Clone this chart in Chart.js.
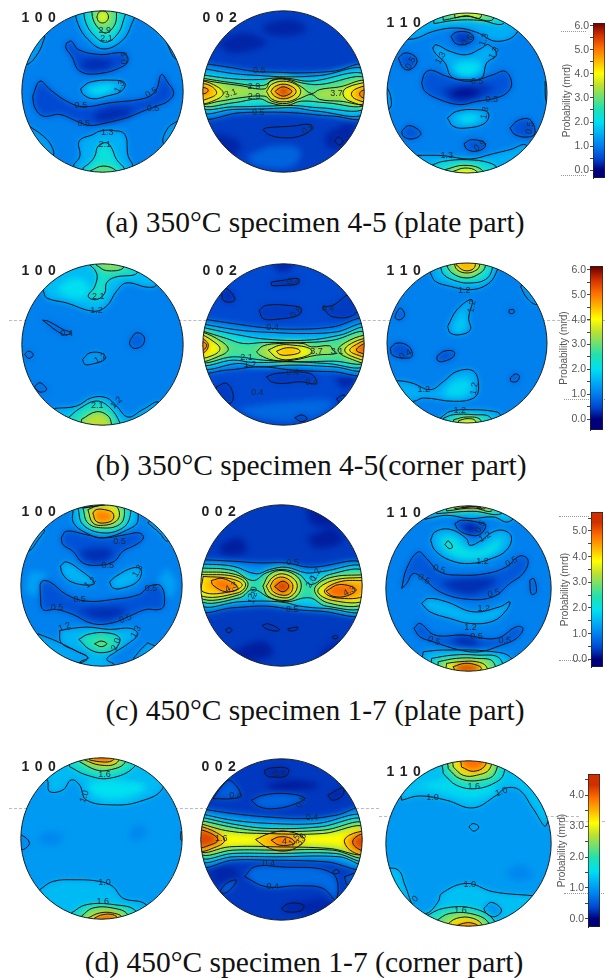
<!DOCTYPE html>
<html><head><meta charset="utf-8">
<style>
html,body{margin:0;padding:0;background:#fff;width:605px;height:978px;overflow:hidden;position:relative}
canvas{position:absolute;display:block;z-index:2}
.t{position:absolute;z-index:3;font:bold 14px "Liberation Sans",Arial,sans-serif;letter-spacing:.8px;color:#222;transform:translate(-50%,-50%);white-space:nowrap}
.c{position:absolute;z-index:3;font:29.5px "Liberation Serif","Times New Roman",serif;color:#111;transform:translate(-50%,-50%);white-space:nowrap}
.d{position:absolute;z-index:1;height:0;border-top:1px dashed #bbb}
.p{position:absolute;z-index:1;height:0;border-top:1px dotted #999}
</style>
<script src="https://cdn.jsdelivr.net/npm/chart.js@4"></script>
</head><body>
<script>
// Jet-like colour stops of the probability scale
const stopT=[0,.08,.17,.25,.33,.42,.5,.58,.66,.75,.83,.92,1];
const stopC=[[0,0,122],[0,72,208],[0,128,238],[0,176,245],[0,224,240],[32,224,176],[112,224,112],[192,224,48],[255,255,0],[255,176,0],[255,112,0],[208,48,0],[112,0,0]];
// Contours: [level, drawLine, x,y, x,y, ...]
const a100=[
[1.35,1,135,112,115,160,80,195,60,170,100,100],[1.35,1,458,85,495,120,520,170,535,180,560,140,500,60],
[1.35,1,85,378,130,410,155,440,160,470,130,500,60,420],[1.35,1,533,365,505,385,490,430,520,440,570,400],
[1.5,1,222,20,235,75,265,120,310,148,365,125,395,75,405,20],[2.2,1,250,20,258,70,285,110,318,128,352,105,370,65,375,20],
[3,1,275,20,280,60,300,90,320,100,345,75,350,40,345,20],[3.9,1,291,52,297,38,308,34,320,38,326,52,320,65,308,70,296,65],
[.5,1,200,130,215,125,235,150,300,165,370,160,385,180,370,200,300,222,240,215,215,170,198,145],[.3,0,240,190,290,178,340,190,300,210,250,205],
[.5,1,98,290,120,245,150,270,200,305,250,322,330,310,440,295,470,270,485,225,505,250,522,280,505,305,470,320,430,335,380,355,320,370,270,378,230,365,180,345,130,350,105,325],
[.3,0,280,345,340,325,400,335,350,360,290,365],
[1.5,1,242,268,270,248,340,242,375,250,365,275,320,290,280,298,250,285],[2,0,260,270,300,258,345,258,330,275,285,285],
[1.5,1,222,495,240,470,238,425,280,405,300,395,335,393,375,405,385,470,400,500,400,540,220,540],
[2.2,1,250,505,270,490,285,470,295,440,320,430,335,445,350,480,375,510,375,540,250,540],[3,1,270,515,310,500,350,515,350,540,270,540]];
const a100Labels=[["2.9",315,93,0],["2.1",320,118,0],["0.9",375,175,-90],["1.3",360,262,-60],["0.5",455,280,-30],["0.5",243,318,0],["0.5",460,328,0],["0.5",252,372,0],["1.3",322,400,0],["2.1",315,435,0]];
const a002=[
[.25,0,800,70,880,60,920,90,860,110,790,95],[.25,0,650,130,730,100,800,130,700,160],[.25,0,650,400,720,430,700,470,640,430],[.25,0,980,400,1060,370,1040,440,980,440],[.75,0,740,470,820,440,900,450,880,500,770,500],
[1.1,1,600,190,700,205,760,215,830,218,900,220,1000,215,1100,200,1100,350,1000,350,880,340,800,338,720,340,600,350],
[1.6,1,600,205,700,222,780,228,860,232,960,228,1100,212,1100,340,950,335,880,325,800,328,700,330,600,335],
[2.2,1,600,225,700,238,780,240,830,235,870,237,930,245,1100,225,1100,325,960,325,880,318,800,320,700,322,600,322],
[2.8,1,600,235,700,250,790,258,820,240,860,238,905,250,960,255,1100,235,1100,315,980,310,905,305,860,318,810,310,780,298,700,310,600,315],
[3.4,1,600,240,660,250,720,258,795,268,812,245,860,240,905,262,935,282,960,270,1020,262,1100,245,1100,310,1020,305,960,300,935,285,905,295,860,312,815,305,795,290,720,295,660,305,600,310],
[4,1,800,276,815,255,850,245,888,255,903,276,888,298,850,307,815,298],[4.6,1,813,276,824,262,850,254,878,262,889,276,878,290,850,298,824,290],[5.2,1,826,276,835,268,850,262,868,268,876,276,868,284,850,290,835,284],[5.8,0,839,276,850,268,863,276,850,284],
[4,1,595,240,640,255,670,280,650,300,595,310],[4.6,1,595,250,630,258,650,280,630,295,595,300],[5,1,595,262,615,265,625,272,615,282,595,282],
[4,1,1110,245,1040,265,1030,285,1050,305,1110,315],[4.6,1,1110,255,1065,270,1055,285,1070,300,1110,305],[5.2,1,1110,268,1085,275,1080,285,1090,295,1110,298],
[.4,1,790,390,800,385,880,380,930,375,935,390,900,410,850,415,805,405],[.4,1,1005,425,1015,413,1030,425,1018,437]];
const a002Labels=[["0.5",778,213,0],["2.9",762,262,0],["2.9",762,290,0],["3.1",692,282,-20],["3.7",1010,282,0],["0.5",775,338,0],["0.9",925,390,-30]];
const a110=[
[1.5,1,110,112,160,118,220,95,290,85,350,98,410,125,470,100,480,20,110,20],[2.2,1,222,72,285,62,360,62,430,72,430,20,222,20],[3,1,250,62,320,50,395,62,395,20,250,20],[3.9,1,285,55,320,48,360,55,360,20,285,20],
[.5,1,273,110,290,97,330,100,340,120,310,135,285,130],[.25,0,290,112,320,108,325,122,300,124],
[1.5,1,218,145,228,135,270,155,320,165,365,145,385,135,410,165,380,190,365,235,320,240,275,232,255,190,225,160],[2,0,280,195,320,185,365,195,340,225,300,225],
[.6,1,115,175,135,160,165,170,170,190,150,210,130,205],
[.6,1,185,250,195,220,215,212,260,230,330,245,400,225,435,215,455,250,440,280,400,297,350,305,300,315,240,300,195,275],[.35,0,240,270,320,255,400,262,360,290,290,305],[.1,0,270,280,320,268,360,280,320,292,280,290],
[1.4,1,80,260,92,290,90,325,60,320,60,270],[1.4,1,555,245,560,310,580,310,580,245],
[1.5,1,262,355,290,335,350,330,385,340,375,370,320,385,280,380],[2,0,285,358,320,345,360,350,325,370],
[.6,1,125,395,145,378,175,390,182,405,155,418,130,410],[.55,1,450,385,475,362,510,360,525,400,505,412,465,405],[.6,1,312,432,335,420,375,430,372,445,345,455,320,448],
[1.5,1,165,467,250,468,330,478,400,462,450,450,500,438,520,540,130,540],[2.2,1,218,495,250,485,320,480,390,490,415,510,415,540,218,540],[3,1,255,510,310,497,365,510,365,540,255,540],[4,1,280,515,315,505,350,515,350,540,280,540]];
const a110Labels=[["0.6",322,122,-45],["1.3",372,120,-70],["1.3",242,175,-60],["1.3",402,160,-60],["0.5",152,190,-60],["0.5",352,245,0],["0.5",395,300,0],["1.3",375,340,-80],["0.9",360,438,-40],["0.5",510,385,-80],["1.3",260,467,0]];
const b100=[
[1.9,0,140,90,180,60,250,60,260,110,210,120],
[1.65,1,130,108,140,130,200,145,280,170,320,155,350,110,380,85,445,98,470,90,480,-10,100,-10],[2,0,170,100,230,70,270,100,250,130,190,120],
[2.4,1,258,20,290,55,285,95,265,125,290,135,315,115,320,85,345,68,412,55,385,10,258,10],[3.2,1,290,32,320,48,370,40,350,10,290,10],
[.7,1,128,197,190,240,215,235,190,225,145,200],[.7,1,392,255,410,235,432,245,430,270,405,282,390,270],[.8,1,74,300,85,290,100,300,87,312],[.8,1,103,398,120,385,140,405,120,413],[1.3,1,248,315,270,295,310,298,315,315,280,328,255,330],
[1.6,1,165,462,230,455,275,430,320,430,350,455,385,488,430,465,480,445,520,540,140,540],[2.4,1,205,490,240,462,290,440,330,460,360,505,360,530,205,530],[3.5,1,245,495,290,472,325,485,335,510,335,540,245,540]];
const b100Labels=[["2.1",295,127,0],["1.2",290,168,0],["0.4",200,238,0],["1.2",302,312,-30],["2.1",292,453,0],["1.2",350,445,-45]];
const b002=[
[.25,0,820,20,880,20,870,45,830,45],[.25,0,1000,370,1070,360,1040,400],[.8,0,710,460,860,440,1000,440,930,490,780,490],
[1.1,1,600,190,700,205,800,218,900,222,1000,215,1100,195,1100,352,1000,350,880,345,780,335,680,345,600,345],
[1.5,1,600,205,720,225,820,232,920,235,1010,230,1100,210,1100,340,1000,335,880,330,770,335,720,325,600,335],
[2.1,1,600,215,720,240,800,252,920,255,1020,240,1100,220,1100,330,980,325,880,320,760,322,700,315,600,325],
[2.8,1,600,225,680,250,730,265,790,262,920,262,1000,255,1100,232,1100,320,1000,318,900,320,790,315,700,305,600,318],
[3.4,1,770,290,790,272,840,265,910,265,935,275,990,272,1000,285,1010,295,950,300,880,315,820,315,780,300],
[4,1,805,285,840,270,880,270,930,280,935,295,880,312,835,310],[4.6,1,830,288,860,278,895,282,900,292,865,300,840,298],
[3.4,1,595,225,650,250,685,280,665,300,595,315],[4,1,595,232,635,255,660,280,640,300,595,305],[4.7,1,595,245,615,255,625,270,615,290,595,295],[5.2,1,595,255,610,260,620,270,610,285,595,285],
[3.4,1,1110,235,1050,255,1015,285,1050,310,1110,320],[4,1,1110,245,1060,262,1035,285,1060,305,1110,312],[4.6,1,1110,250,1075,265,1050,285,1075,300,1110,305],[5.3,1,1110,258,1085,270,1070,285,1090,295,1110,295],
[.3,1,815,80,850,75,895,70,895,85,850,90,815,90],[.3,1,665,110,680,100,705,130,695,140,670,135],[.4,1,778,165,800,150,880,152,905,160,895,180,830,192,790,190],[.4,1,970,155,1000,150,1050,118,1080,140,1060,180,1000,185,975,165],
[.4,1,800,365,830,355,930,355,950,385,900,380,850,385,815,380],[.4,1,650,395,680,385,700,420,690,445,640,430],[.4,1,885,488,905,480,922,490,905,500],[.4,1,1010,432,1030,420,1045,430,1030,450]];
const b002Labels=[["0.4",880,78,0],["0.8",890,172,-45],["0.4",985,160,0],["0.4",818,218,0],["2.1",740,308,0],["1.2",750,328,0],["0.4",878,352,0],["0.4",935,383,0],["0.4",772,412,0],["3.7",950,290,0],["3.1",1012,290,0]];
const b110=[
[1.5,1,210,55,225,80,270,95,330,105,380,90,407,55,420,-10,200,-10],[2.2,1,240,35,250,60,290,80,330,85,375,75,395,45,395,-10,240,-10],[3,1,255,25,275,55,320,70,360,55,375,35,375,-10,255,-10],[3.9,1,280,20,290,45,320,55,350,45,358,30,358,-10,280,-10],[4.6,1,287,30,310,47,335,45,345,30,335,20,295,20],
[1.3,1,480,95,500,130,530,150,560,130,520,80],[.7,1,108,175,120,160,133,180,120,195,105,190],[.6,1,447,165,460,165,460,175,447,175],
[1.5,1,262,215,290,165,335,135,325,190,330,225,300,240,270,235],[1.8,0,280,215,300,190,315,175,310,225,285,230],
[.55,1,90,280,110,265,145,275,155,305,125,310,95,300],[.55,1,230,305,250,290,280,290,280,305,250,320,232,318],[.6,1,450,370,465,358,477,365,470,380,452,380],
[1.5,1,85,380,112,378,155,385,210,405,250,380,290,350,340,350,355,400,340,430,280,440,190,430,160,440,100,440],[1.9,0,250,405,290,375,330,380,320,420,260,425],
[1.6,1,240,490,270,470,330,465,400,470,420,480,430,530,230,530],[2.3,1,250,490,280,480,340,480,390,488,390,530,250,530],[3.1,1,280,495,320,487,360,495,360,530,280,530],[3.9,1,295,498,320,492,345,498,345,530,295,530]];
const b110Labels=[["1.2",312,108,0],["1.2",335,155,-80],["0.4",135,300,-30],["1.2",190,405,0],["1.2",342,402,-80],["1.2",298,467,0]];
const c100=[
[1.3,0,90,230,140,240,120,300,80,290],[1.3,0,500,220,530,260,510,310,470,280],
[1.35,1,135,110,120,130,85,170,60,140,120,80],[1.35,1,445,85,480,115,505,140,540,110,470,60],
[1.5,1,220,45,222,85,260,115,310,130,385,105,415,80,400,30,220,20],[2.1,1,235,40,250,90,310,115,370,100,392,65,385,30],[2.9,1,250,40,265,85,310,100,360,90,375,60,365,30],[3.7,1,265,45,280,85,312,92,350,80,360,55,345,32,300,32],[4.7,1,280,55,290,45,315,45,340,55,340,75,315,85,290,80],
[.55,1,185,130,200,110,260,120,310,130,380,120,420,115,432,130,410,150,370,170,345,200,300,212,250,205,220,170,190,150],[.3,0,240,170,300,160,340,170,310,200,260,195],
[1.5,1,182,215,200,202,240,225,285,265,265,272,215,262,190,240],[1.5,1,330,262,350,245,400,220,425,225,415,260,365,282,340,280],
[.55,1,122,300,125,262,150,262,200,300,260,320,340,315,420,300,450,275,485,275,495,330,480,345,440,345,390,365,340,385,280,388,220,360,170,345,130,345],[.3,0,230,350,300,340,380,345,320,375],
[1.35,1,115,418,170,440,230,470,265,490,240,505,150,500,90,450],[1.35,1,445,445,480,465,430,490,400,500,420,470],
[1.5,1,180,408,260,398,330,405,395,402,415,420,390,445,345,475,322,495,345,512,330,530,250,530,240,505,265,490,230,470,185,445],
[2.4,1,238,435,265,420,320,415,360,430,350,460,310,475,270,465],[3.1,1,285,448,305,440,322,448,305,457]];
const c100Labels=[["0.5",360,140,0],["0.5",325,212,0],["1.2",272,265,-40],["1.3",415,230,-60],["0.5",240,315,0],["0.5",455,282,0],["0.5",172,340,0],["0.5",378,373,-20],["1.2",195,398,-20],["1.3",410,412,-60],["2.0",350,450,-70]];
const c002=[
[.2,0,920,130,1000,100,1030,140,950,160],[.2,0,660,150,720,130,740,170,670,180],[.2,0,700,470,790,440,820,480,730,500],[.2,0,920,40,1000,50,1020,90,940,90],[.25,0,960,470,1020,440,1030,480,970,500],
[1.1,1,600,195,700,200,780,205,860,205,930,218,1100,210,1100,355,960,350,880,345,800,335,700,340,600,345],
[1.7,1,600,208,700,215,770,238,810,225,860,218,920,235,960,232,1100,220,1100,345,980,342,900,335,860,325,800,320,720,322,600,330],
[2.5,1,600,220,700,228,760,258,800,235,850,225,900,240,935,270,990,240,1100,232,1100,335,980,335,930,310,860,322,810,310,760,285,720,310,600,318],
[3.2,1,600,232,700,238,745,265,720,300,600,310],[3.8,1,600,240,700,245,738,268,715,295,600,302],[4.2,1,610,246,690,252,728,270,700,290,610,292],[4.8,1,635,258,670,252,715,280,680,292,640,272],
[3.2,1,1100,240,990,250,945,285,985,325,1100,325],[3.8,1,1100,248,1000,258,955,290,1000,318,1100,315],[4.4,1,1100,258,1020,262,975,290,1010,310,1100,302],[4.9,1,980,290,1020,270,1070,285,1040,305,1000,305],
[3.2,1,790,275,810,240,850,228,895,248,905,280,885,310,850,318,805,305],[3.8,1,800,275,820,248,850,238,885,255,893,280,875,305,850,310,815,298],[4.6,1,812,275,825,255,850,248,875,262,880,280,870,298,848,302,822,292],[5.3,1,825,276,850,260,868,275,850,292],
[.35,1,788,393,805,388,840,405,830,410,800,403],[.35,1,865,403,895,398,890,407,868,409],[.35,1,678,405,690,400,697,408,685,415],[.35,1,998,428,1010,423,1015,430,1003,433]];
const c002Labels=[["0.5",880,205,0],["1.2",950,240,-60],["2.0",935,262,-60],["4.3",695,278,-30],["2.0",760,295,-70],["1.2",760,310,-70],["4.3",1050,290,-30],["0.5",878,345,0]];
const c110=[
[1.6,1,195,72,260,60,330,70,400,65,445,80,470,50,190,20],[2.3,1,230,55,340,48,425,55,430,10,230,10],[3.2,1,260,47,340,38,395,47,395,10,260,10],[4,1,285,40,345,33,375,40,375,10,285,10],[5,1,310,38,345,33,360,40,360,15,310,15],
[.45,1,285,85,305,75,360,82,378,90,360,118,325,118,295,103],[.1,0,310,95,340,90,345,105,320,105],
[1.5,1,212,135,225,110,270,102,320,130,330,150,365,135,395,112,430,105,455,125,440,165,395,190,330,205,270,195,225,165],[2,0,240,130,280,125,320,160,370,160,420,130,410,165,340,190,270,175],[2.3,1,255,148,265,137,278,155,268,160],
[.6,1,125,280,140,220,175,170,200,190,240,230,300,240,380,235,440,215,480,182,505,195,490,235,450,265,400,305,320,312,240,290,190,250,160,235,140,265],[.3,0,240,262,320,250,410,255,340,295,280,285],
[.65,1,510,255,522,250,530,290,515,297],
[1.5,1,185,325,205,310,260,320,340,350,420,335,450,320,440,345,400,378,330,385,270,370,210,350],
[.6,1,162,400,180,385,225,420,310,420,410,430,470,395,490,400,470,430,425,450,360,470,300,465,220,440,180,425],[.3,0,270,435,320,425,360,450,310,455],
[1.5,1,190,470,250,465,400,470,455,490,470,560,180,560],[2.1,1,215,490,280,480,350,480,420,490,420,550,215,550],[3,1,235,500,290,490,350,490,400,500,400,550,235,550],[3.8,1,260,505,300,500,350,500,380,515,380,550,260,550],[5.2,1,280,515,315,505,350,510,365,520,350,530,290,530]];
const c110Labels=[["0.5",362,95,-60],["1.2",375,125,-30],["1.2",368,200,0],["0.5",238,222,20],["0.5",455,200,-30],["0.5",192,252,30],["0.5",402,295,-15],["1.2",372,340,0],["1.2",332,397,0],["0.5",350,425,0],["0.5",222,437,20],["0.5",435,435,0]];
const d100=[
[1.5,0,280,110,340,110,440,130,380,170,290,160],
[1.25,1,145,110,150,140,190,135,215,105,240,120,260,165,340,180,420,170,490,130,500,30,110,30],[1.55,0,265,110,345,105,440,125,370,160,285,150],
[1.8,1,210,65,260,90,330,100,405,65,405,20,210,20],[2.4,1,240,50,290,75,330,75,375,55,375,20,240,20],[3.2,1,255,45,300,60,350,55,360,20,255,20],[4,1,270,45,300,50,330,50,345,40,345,20,270,20],
[.85,0,400,240,440,250,430,280,390,280],[.85,0,130,260,190,270,170,300,120,290],[.85,1,65,270,85,285,88,300,65,315,40,300],[.85,1,545,260,560,285,545,285],
[1.25,1,120,435,160,410,230,405,300,410,340,425,370,460,440,480,480,560,100,560],[1.8,1,215,505,260,480,345,480,410,500,410,560,215,560],[2.4,1,245,515,280,490,340,490,385,510,385,560,245,560],[3.2,1,265,520,300,505,340,505,370,520,360,560,265,560],[4,1,285,520,310,510,340,510,355,522,340,540,290,540]];
const d100Labels=[["1.6",315,90,0],["1.0",255,155,-70],["1.0",315,413,0],["1.6",310,470,0]];
const d002=[
[.15,0,800,120,880,105,960,120,900,135,820,135],[.2,0,620,370,680,360,720,390,660,420],[.2,0,880,480,960,460,1010,480,930,510],[.6,0,760,395,860,375,960,385,900,415,780,420],
[.9,1,600,190,700,205,800,215,920,220,1010,210,1100,190,1100,365,980,350,800,345,700,345,600,360],[1.3,1,600,205,700,225,820,235,950,235,1100,215,1100,355,1020,335,830,335,700,335,600,345],
[1.8,1,600,215,720,240,820,250,960,245,1100,225,1100,345,1010,325,830,325,700,325,600,335],[2.3,1,600,225,720,250,810,258,970,255,1100,235,1100,335,1000,315,830,315,700,315,600,325],
[2.7,1,600,235,690,258,800,265,970,265,1100,245,1100,325,990,310,830,305,690,305,600,318],[3.1,0,600,240,680,265,1000,265,1100,255,1100,320,1000,300,700,300,600,310],
[3.5,1,768,283,810,265,860,258,915,280,895,305,850,318,800,305],[3.9,1,815,285,840,275,875,280,885,295,840,300],
[3.6,1,595,240,650,262,675,285,650,305,595,315],[4.2,1,595,250,640,268,655,285,635,298,595,305],
[3.6,1,1100,255,1050,270,1035,290,1060,320,1100,325],[4.2,1,1100,262,1070,275,1060,292,1075,310,1100,315],
[.2,1,795,75,815,68,865,70,860,92,820,95,800,90],[.6,1,755,165,790,150,860,145,915,158,890,175,830,190,780,185],[.55,1,640,160,665,125,690,105,725,150,700,160],[.2,1,985,150,1030,128,1030,150,1000,165],
[.65,1,735,395,765,365,840,365,1000,385,1010,465,970,430,900,422,800,425],[.6,1,660,440,680,415,710,405,700,425,675,445],[.6,1,1000,380,1012,373,1020,382,1005,386],[.6,1,1035,395,1070,385,1045,420],[.2,1,845,490,870,475,912,480,905,497,860,500]];
const d002Labels=[["0.4",840,85,0],["0.4",708,152,0],["0.8",905,170,-60],["0.4",938,218,0],["1.6",665,280,0],["4",855,290,0],["1.5",885,285,-50],["3.6",905,283,-60],["0.4",808,355,0],["0.4",820,424,0]];
const d110=[
[1.3,1,125,165,180,152,260,165,340,188,410,150,440,128,480,135,520,190,560,240,600,0,100,0],[1.5,0,170,120,250,140,340,160,410,130,300,100],[1.8,1,250,85,290,120,350,130,410,110,432,85,432,20,250,20],[2.4,1,265,70,300,100,360,105,405,85,405,20,265,20],[3.2,1,280,65,310,90,350,90,390,70,390,20,280,20],[3.9,1,305,65,340,78,375,62,375,30,305,30],
[1.2,1,327,245,340,235,357,245,342,258],[.85,0,440,375,490,360,520,395,460,405],
[1.3,1,70,368,115,375,135,420,165,490,200,505,235,470,245,445,320,415,400,440,520,452,600,460,600,600,70,600],
[.95,1,372,490,395,472,425,495,405,515,380,505],[1.8,1,195,515,250,490,340,490,405,530,405,600,195,600],[2.4,1,225,530,270,505,350,510,390,540,390,600,225,600],[3.2,1,255,545,290,520,340,520,370,545,370,600,255,600],[3.9,1,275,550,310,535,340,535,360,550,360,600,275,600]];
const d110Labels=[["1.6",342,125,0],["1.0",218,158,0],["1.0",425,140,-20],["1.0",330,417,0],["1.0",158,470,-45],["1.6",302,495,0]];
// Colour bars: [low, high] value range and the labelled ticks
const barA=[-.33,6.12],barB=[-.44,6.16],barC=[-.3,5.74],barD=[-.26,4.68];
const tickStepA=.5,tickStepB=.5,tickStepC=.5,tickStepD=.5;

const captions=[["(a) 350°C specimen 4-5 (plate part)",315,222],["(b) 350°C specimen 4-5(corner part)",311,465],["(c) 450°C specimen 1-7 (plate part)",315,710],["(d) 450°C specimen 1-7 (corner part)",304,962]];
Chart.defaults.font.family='"Liberation Sans",Arial,sans-serif';

function colour(v,vmax){
  const t=Math.max(0,Math.min(1,v/vmax));let i=0;
  while(i<stopT.length-2&&t>stopT[i+1])i++;
  const f=(t-stopT[i])/(stopT[i+1]-stopT[i]);
  return 'rgb('+stopC[i].map((c,k)=>Math.round(c+(stopC[i+1][k]-c)*f)).join(',')+')';
}
function addCanvas(l,t,w,h){
  const c=document.createElement('canvas');c.width=w;c.height=h;
  c.style.left=l+'px';c.style.top=t+'px';c.style.width=w+'px';c.style.height=h+'px';
  document.body.appendChild(c);return c;
}
function disk(title,data,labels,ox,oy,cx,cy,r,base,vmax,tx,ty){
  const R=r+9,size=Math.round(2*R/3);
  const cv=addCanvas(Math.round(ox+(cx-R)/3),Math.round(oy+(cy-R)/3),size,size);
  const pts=a=>{const o=[];for(let i=2;i<a.length;i+=2)o.push({x:a[i],y:a[i+1]});o.push({x:a[2],y:a[3]});return o;};
  const ds=[];
  data.forEach(c=>ds.push({data:pts(c),showLine:true,fill:'shape',backgroundColor:colour(c[0],vmax),borderColor:'transparent',borderWidth:0,pointRadius:0,tension:.4,clip:false}));
  const lastFill=ds.length-1;
  data.filter(c=>c[1]).forEach(c=>ds.push({data:pts(c),showLine:true,fill:false,borderColor:'#10141c',borderWidth:1,pointRadius:0,tension:.4,clip:false}));
  ds.forEach((d,i)=>{d.order=ds.length-i;});
  const plug={id:'disk',
    beforeDatasetsDraw(ch){
      const g=ch.ctx,px=ch.scales.x.getPixelForValue(cx),py=ch.scales.y.getPixelForValue(cy);
      g.save();g.beginPath();g.arc(px,py,r/3,0,Math.PI*2);g.fillStyle=colour(base,vmax);g.fill();g.clip();g.filter='blur(3px)';
    },
    afterDatasetDraw(ch,a){if(a.index===lastFill)ch.ctx.filter='none';},
    afterDatasetsDraw(ch){
      const g=ch.ctx,sx=ch.scales.x,sy=ch.scales.y;
      g.filter='none';
      g.font='9px "Liberation Sans",Arial,sans-serif';g.textAlign='center';g.textBaseline='middle';
      labels.forEach(l=>{g.save();g.translate(sx.getPixelForValue(l[1]),sy.getPixelForValue(l[2]));g.rotate(l[3]*Math.PI/180);g.fillStyle='#142a44';g.fillText(l[0],0,0);g.restore();});
      g.restore();
      g.beginPath();g.arc(sx.getPixelForValue(cx),sy.getPixelForValue(cy),r/3,0,Math.PI*2);g.strokeStyle='#1a1f28';g.lineWidth=1;g.stroke();
    }};
  new Chart(cv,{type:'scatter',data:{datasets:ds},plugins:[plug],options:{responsive:false,animation:false,events:[],layout:{padding:0},
    plugins:{legend:{display:false},tooltip:{enabled:false}},
    scales:{x:{type:'linear',display:false,min:cx-R,max:cx+R},y:{type:'linear',display:false,reverse:true,min:cy-R,max:cy+R}}}});
  const d=document.createElement('div');d.className='t';d.textContent=title;d.style.left=tx+'px';d.style.top=ty+'px';document.body.appendChild(d);
}
function colourBar(range,step,left,top,w,h,vmax){
  const axisW=32,pad=9;
  const cv=addCanvas(left-axisW,top-pad,axisW+w+2,h+2*pad);
  new Chart(cv,{type:'bar',data:{labels:[''],datasets:[{data:[range],barPercentage:1,categoryPercentage:1,borderColor:'#222',borderWidth:1,borderSkipped:false,
    backgroundColor(ctx){
      const ch=ctx.chart;if(!ch.chartArea)return '#06c';
      const g=ch.ctx.createLinearGradient(0,ch.chartArea.bottom,0,ch.chartArea.top);
      for(let i=0;i<stopT.length;i++){
        const vv=stopT[i]*vmax,f=(vv-range[0])/(range[1]-range[0]);
        if(f>=0&&f<=1)g.addColorStop(f,'rgb('+stopC[i].join(',')+')');
      }
      g.addColorStop(0,'rgb(0,0,122)');
      return g;
    }}]},
    options:{responsive:false,animation:false,events:[],layout:{padding:{top:pad,bottom:pad,left:0,right:2}},
    plugins:{legend:{display:false},tooltip:{enabled:false}},
    scales:{x:{display:false},y:{min:range[0],max:range[1],afterFit(s){s.width=axisW;},
      border:{color:'#222'},grid:{drawOnChartArea:false,tickLength:3,color:'#444'},
      title:{display:true,text:'Probability (mrd)',color:'#555',font:{size:10},padding:0},
      ticks:{stepSize:step,includeBounds:false,autoSkip:false,maxRotation:0,color:'#555',padding:1,font:{size:10.5},callback:v=>Number.isInteger(v)?v.toFixed(1):''}}}}});
}
// Faint scan artefacts behind the disks
[[9,320,596],[9,808,370],[379,816,200],[560,821,45]].forEach(a=>{const d=document.createElement('div');d.className='d';d.style.cssText+=`left:${a[0]}px;top:${a[1]}px;width:${a[2]}px`;document.body.appendChild(d);});
[[561,31,25],[561,175,25],[564,399,41],[559,516,30],[559,660,30],[564,893,40]].forEach(a=>{const d=document.createElement('div');d.className='p';d.style.cssText+=`left:${a[0]}px;top:${a[1]}px;width:${a[2]}px`;document.body.appendChild(d);});

disk('1 0 0',a100,a100Labels,0,0,308,276,242,1.05,6.1,39,17);
disk('0 0 2',a002,a002Labels,0,0,851,276,242,.42,6.1,220,17);
disk('1 1 0',a110,a110Labels,360,0,321,280,240,1.05,6.1,404,22);
colourBar(barA,tickStepA,593,23,12,155,6.1);
disk('1 0 0',b100,b100Labels,0,255,308,270,242,1.05,6.1,39,270);
disk('0 0 2',b002,b002Labels,0,255,851,268,242,.5,6.1,220,270);
disk('1 1 0',b110,b110Labels,360,255,320,265,240,1.05,6.1,404,270);
colourBar(barB,tickStepB,590,266,13,164,6.1);
disk('1 0 0',c100,c100Labels,0,495,306,273,242,1.0,5.8,39,511);
disk('0 0 2',c002,c002Labels,0,495,846,273,242,.38,5.8,219,511);
disk('1 1 0',c110,c110Labels,360,495,326,280,248,1.0,5.8,404,512);
colourBar(barC,tickStepC,591,512,12,155,5.8);
disk('1 0 0',d100,d100Labels,0,745,306,281,242,1,4.7,39,766);
disk('0 0 2',d002,d002Labels,0,745,846,283,242,.3,4.7,219,766);
disk('1 1 0',d110,d110Labels,360,745,326,295,248,1,4.7,404,771);
colourBar(barD,tickStepD,588,774,12,153,4.7);
captions.forEach(c=>{const d=document.createElement('div');d.className='c';d.textContent=c[0];d.style.left=c[1]+'px';d.style.top=c[2]+'px';document.body.appendChild(d);});
</script>
</body></html>
